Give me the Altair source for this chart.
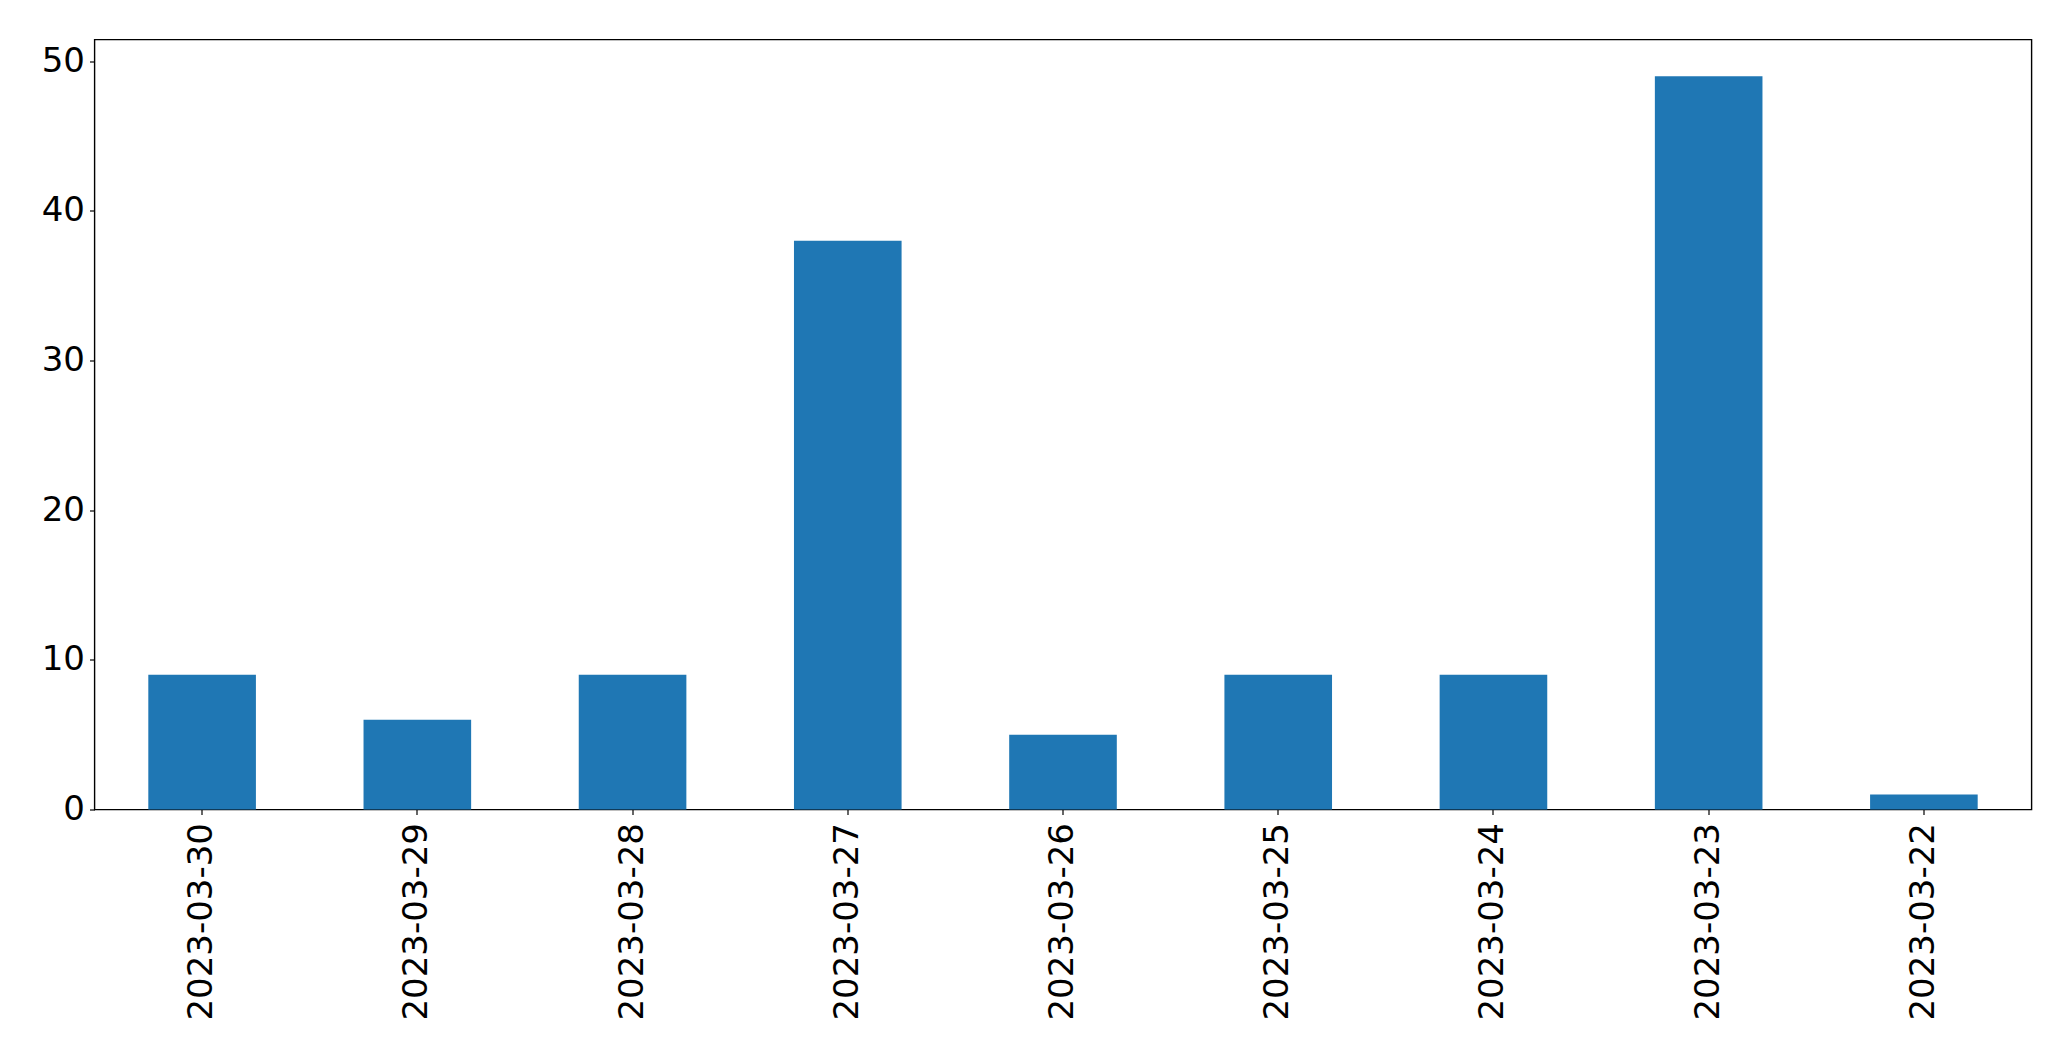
import altair as alt
import pandas as pd

dates = ["2023-03-30", "2023-03-29", "2023-03-28", "2023-03-27", "2023-03-26",
         "2023-03-25", "2023-03-24", "2023-03-23", "2023-03-22"]
counts = [9, 6, 9, 38, 5, 9, 9, 49, 1]
y_ticks = [0, 10, 20, 30, 40, 50]

df = pd.DataFrame({"date": dates, "count": counts})

chart = alt.Chart(df).mark_bar(color="#1f77b4").encode(
    x=alt.X("date:N", sort=dates, title=None,
            scale=alt.Scale(paddingInner=0.5, paddingOuter=0.25),
            axis=alt.Axis(labelAngle=270, labelAlign="right", labelBaseline="middle",
                          labelFontSize=34, labelFont="DejaVu Sans", labelColor="black",
                          labelPadding=8, labelLimit=1000, tickSize=5, tickColor="black",
                          tickWidth=1.2, domain=False, grid=False)),
    y=alt.Y("count:Q", title=None,
            scale=alt.Scale(domain=[0, 51.45], nice=False, zero=True),
            axis=alt.Axis(values=y_ticks, labelFontSize=34, labelFont="DejaVu Sans",
                          labelColor="black", labelPadding=5, tickSize=5,
                          tickColor="black", tickWidth=1.2, domain=False, grid=False)),
).properties(
    width=1937, height=770,
    autosize=alt.AutoSizeParams(type="none"),
    padding={"left": 86.5, "top": 31.5, "right": 30, "bottom": 230},
).configure_view(stroke="black", strokeWidth=1.4)

chart.save("out.html", embed_options={"renderer": "svg", "actions": False})
